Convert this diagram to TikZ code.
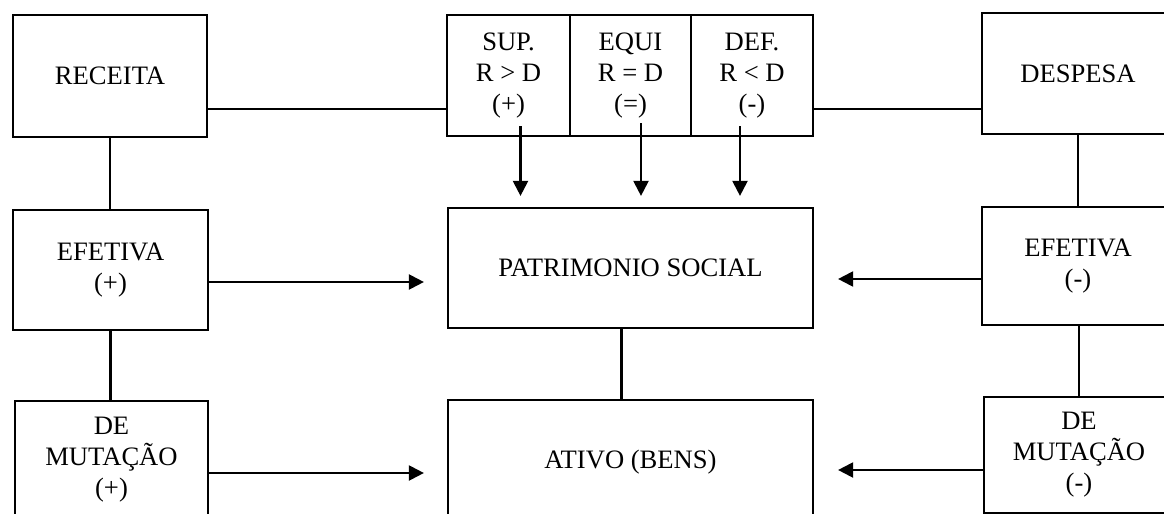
\documentclass[tikz,border=0pt]{standalone}
\usepackage{fontspec}
\setmainfont{Liberation Serif}
\usetikzlibrary{arrows.meta,calc}
\begin{document}
\begin{tikzpicture}[x=0.5pt,y=-0.5pt,
  box/.style={draw,line width=1.1pt,inner sep=0pt,align=center,
    font=\fontsize{13.3}{15.5}\selectfont},
  link/.style={line width=1.1pt},
  arr/.style={line width=1.1pt,-{Triangle[length=7.5pt,width=7.5pt]}}]
\useasboundingbox (0,0) rectangle (1164,514);
\clip (0,0) rectangle (1164,514);
% nodes (minimum sizes in pt = px/2)
\node[box,minimum width=97pt,minimum height=61pt] (rec) at (110,76) {RECEITA};
\node[box,minimum width=97.5pt,minimum height=60pt] (efp) at (110.5,270) {EFETIVA\\(+)};
\node[box,minimum width=96.5pt,minimum height=58.5pt] (mutp) at (111.5,459.5) {DE\\MUTAÇÃO\\(+)};
\node[box,minimum width=61.5pt,minimum height=60.5pt] (sup) at (508.5,75.5) {SUP.\\R > D\\(+)};
\node[box,minimum width=60.5pt,minimum height=60.5pt] (equi) at (630.5,75.5) {EQUI\\R = D\\(=)};
\node[box,minimum width=61pt,minimum height=60.5pt] (def) at (752,75.5) {DEF.\\R < D\\(-)};
\node[box,minimum width=182.5pt,minimum height=60pt] (pat) at (630.5,268) {PATRIMONIO SOCIAL};
\node[box,minimum width=182.5pt,minimum height=62pt] (ativo) at (630.5,462) {ATIVO (BENS)};
\node[box,minimum width=96pt,minimum height=60.5pt] (desp) at (1078,73.5) {DESPESA};
\node[box,minimum width=96pt,minimum height=59pt] (efm) at (1078,266) {EFETIVA\\(-)};
\node[box,minimum width=95pt,minimum height=58pt] (mutm) at (1079,455) {DE\\MUTAÇÃO\\(-)};
% helper levels
\coordinate (ytop) at (0,109);
\coordinate (yefp) at (0,282);
\coordinate (ymutp) at (0,473);
\coordinate (yefm) at (0,279);
\coordinate (ymutm) at (0,470);
% horizontal links at top
\draw[link] (rec.east |- ytop) -- (sup.west |- ytop);
\draw[link] (def.east |- ytop) -- (desp.west |- ytop);
% vertical links
\draw[link] (rec.south) -- (rec.south |- efp.north);
\draw[link] (efp.south) -- (efp.south |- mutp.north);
\draw[link] (desp.south) -- (desp.south |- efm.north);
\draw[link] ($(efm.south)+(1,0)$) -- ($(efm.south |- mutm.north)+(1,0)$);
\draw[link] ($(pat.south)+(-9,0)$) -- ($(pat.south |- ativo.north)+(-9,0)$);
% arrows from top boxes
\draw[arr,shorten >=5.5pt] ($(sup.south)+(12,-11)$) -- ($(sup.south |- pat.north)+(12,0)$);
\draw[arr,shorten >=5.5pt] ($(equi.south)+(10.5,-14)$) -- ($(equi.south |- pat.north)+(10.5,0)$);
\draw[arr,shorten >=5.5pt] ($(def.south)+(-12,-11)$) -- ($(def.south |- pat.north)+(-12,0)$);
% side arrows
\draw[arr,shorten >=11.5pt] (efp.east |- yefp) -- (pat.west |- yefp);
\draw[arr,shorten >=11.5pt] (mutp.east |- ymutp) -- (ativo.west |- ymutp);
\draw[arr,shorten >=12pt] (efm.west |- yefm) -- (pat.east |- yefm);
\draw[arr,shorten >=12pt] (mutm.west |- ymutm) -- (ativo.east |- ymutm);
\end{tikzpicture}
\end{document}
